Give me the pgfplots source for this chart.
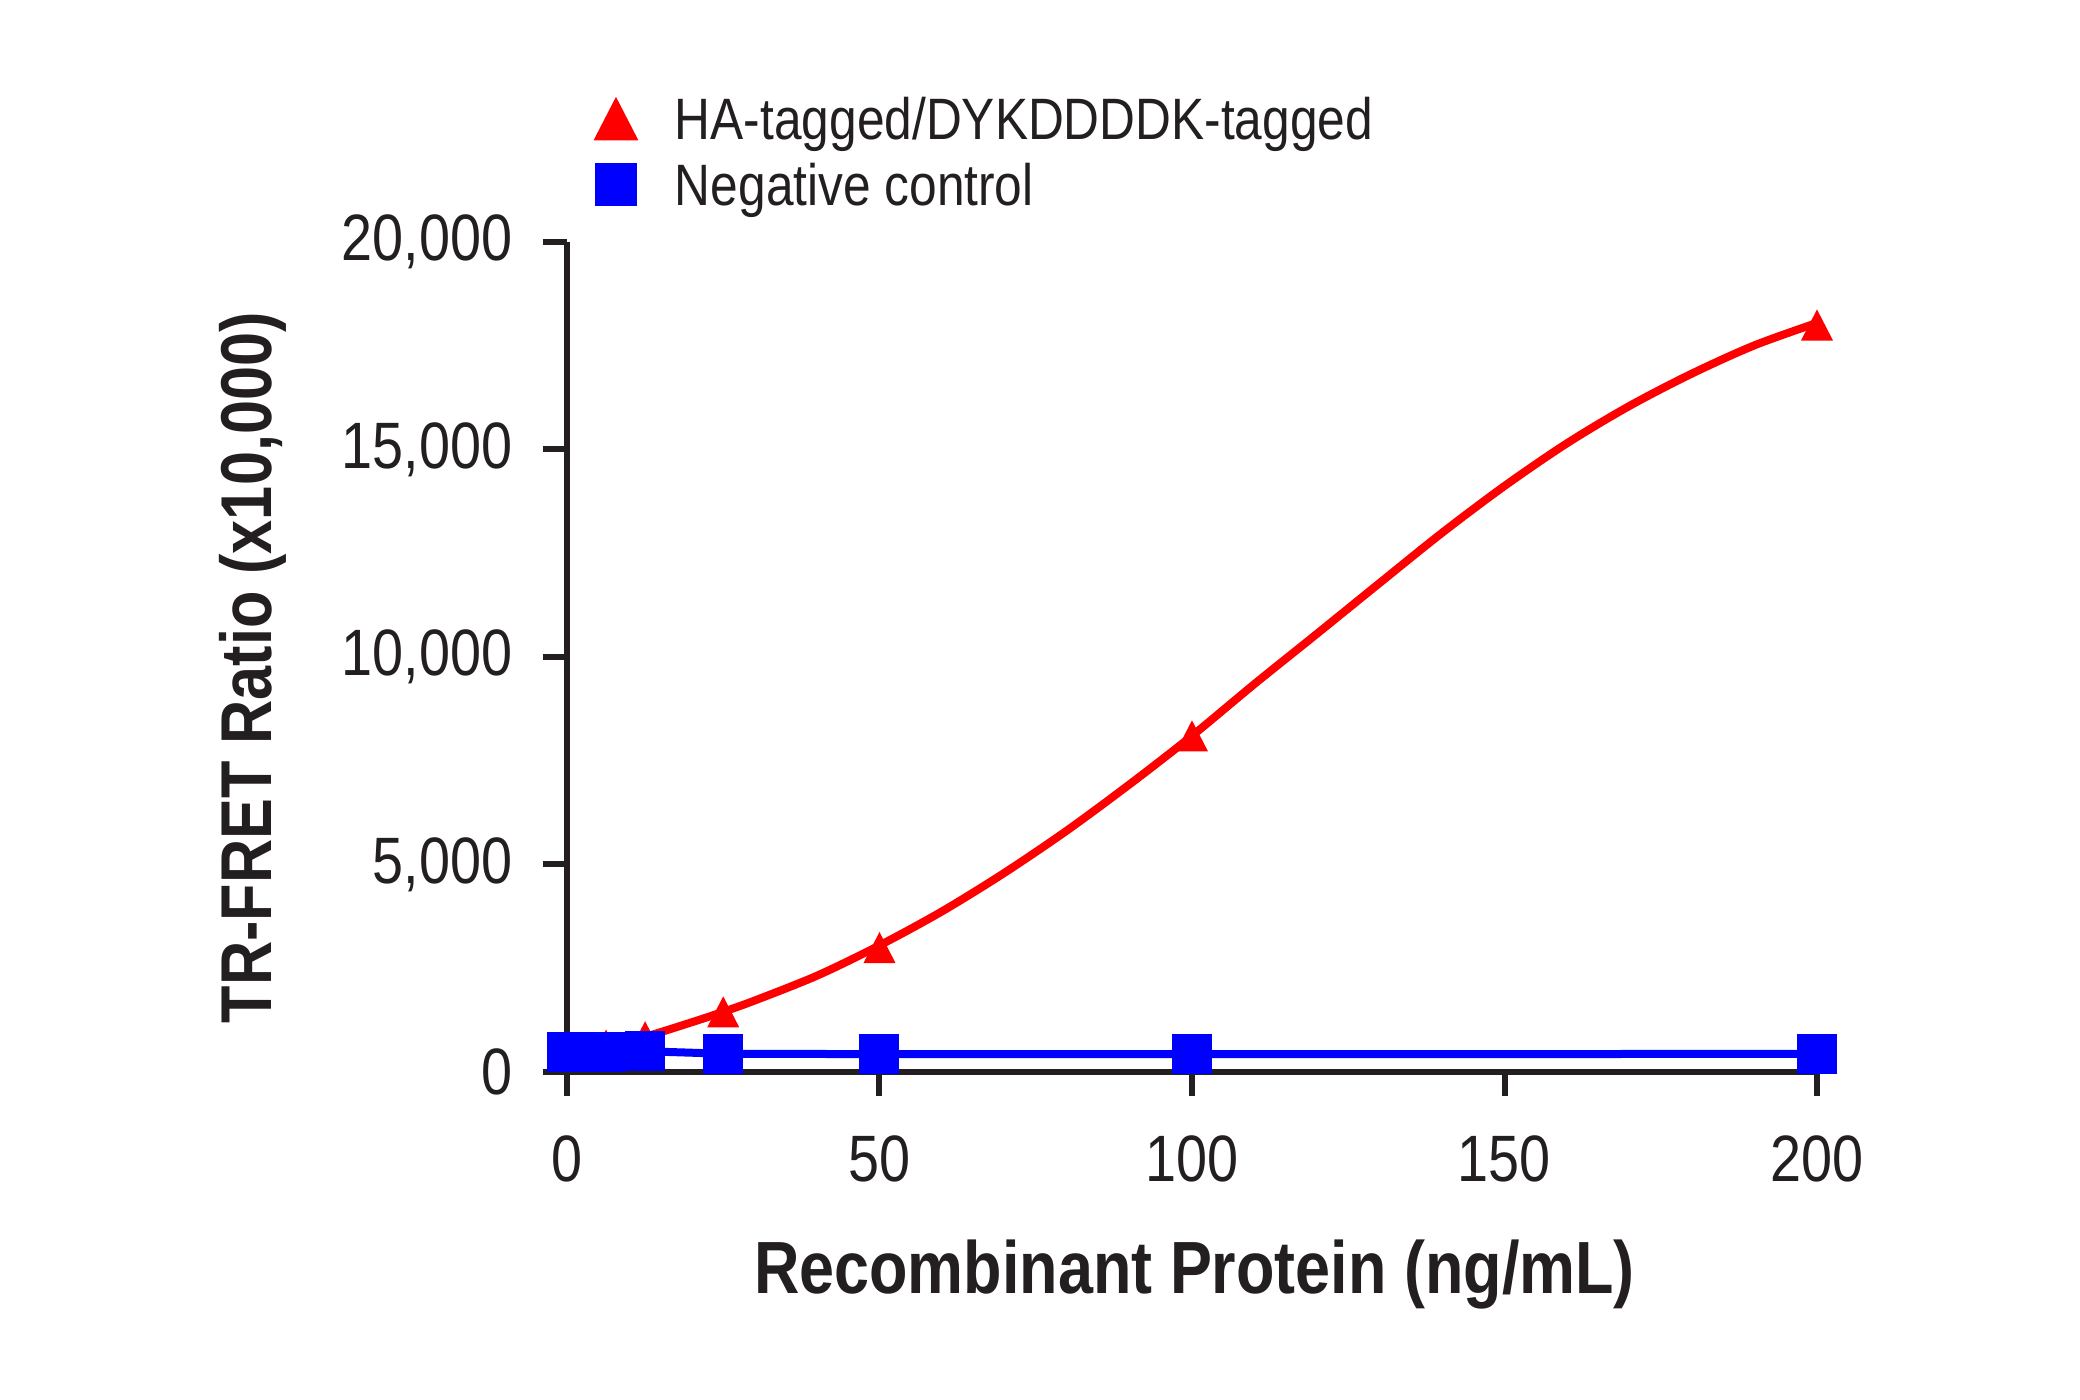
\documentclass[border=0pt]{standalone}
\usepackage{fontspec}
\setmainfont{Liberation Sans}[FakeStretch=0.85]
\usepackage{pgfplots}
\pgfplotsset{compat=1.18}
\definecolor{axisc}{HTML}{231F20}
\definecolor{myred}{HTML}{FF0000}
\definecolor{myblue}{HTML}{0000FF}
\pgfdeclareplotmark{tri}{%
  \pgfpathmoveto{\pgfqpoint{0pt}{0.97\pgfplotmarksize}}%
  \pgfpathlineto{\pgfqpoint{\pgfplotmarksize}{-0.97\pgfplotmarksize}}%
  \pgfpathlineto{\pgfqpoint{-\pgfplotmarksize}{-0.97\pgfplotmarksize}}%
  \pgfpathclose
  \pgfusepathqfill}
\pgfplotsset{mylegimg/.style={legend image code/.code={\pgfpathrectangle{\pgfpoint{-7pt}{-6pt}}{\pgfpoint{14pt}{12pt}}\pgfusepath{discard}\draw[##1] plot[only marks] coordinates {(0pt,1.6pt)};}}}
\begin{document}
\begin{tikzpicture}
\begin{axis}[
  name=ax, scale only axis, width=312.5pt, height=207.5pt,
  xmin=0, xmax=200, ymin=0, ymax=20000,
  axis lines=left, axis line style={-, line width=1.5pt, color=axisc},
  tick align=outside, major tick length=6pt,
  tick style={line width=1.5pt, color=axisc},
  xtick={0,50,100,150,200}, ytick={0,5000,10000,15000,20000},
  minor tick num=0,
  scaled y ticks=false,
  /pgf/number format/assume math mode=true,
  yticklabel style={/pgf/number format/1000 sep={,}, font=\fontsize{16.4}{19}\selectfont, inner sep=0pt, xshift=-7.5pt, color=axisc},
  xticklabel style={font=\fontsize{16.4}{19}\selectfont, inner sep=0pt, anchor=base, yshift=-21.3pt, color=axisc},
  xlabel={\textbf{Recombinant Protein (ng/mL)}},
  ylabel={\textbf{TR-FRET Ratio (x10,000)}},
  xlabel style={font=\fontsize{18.5}{22}\selectfont, at={(axis description cs:0.502,-0.2666)}, anchor=base, inner sep=0pt, color=axisc},
  ylabel style={font=\fontsize{18}{22}\selectfont, at={(axis description cs:-0.2512,0.487)}, anchor=center, inner sep=0pt, color=axisc},
  clip=false,
  legend cell align=left,
  legend style={draw=none, fill=none, at={(rel axis cs:0.0168,1.1759)}, anchor=north west,
    inner sep=0pt, outer sep=0pt, row sep=2pt, column sep=7.75pt,
    nodes={inner sep=0pt, text height=11pt, text depth=3.5pt, font=\fontsize{14.6}{18}\selectfont, text=axisc}},
]
\addlegendimage{myred, mark=tri, mark size=5.6pt, mylegimg}
\addlegendentry{HA-tagged/DYKDDDDK-tagged}
\addlegendimage{myblue, mark=square*, mark size=5.1pt, mylegimg}
\addlegendentry{Negative control}
% red fitted curve
\addplot[myred, line width=2pt, smooth, tension=0.5, forget plot] coordinates {
(0,450) (6.25,640) (12.5,850) (20,1200) (25,1450) (30,1720) (40,2320) (50,3050) (60,3870) (70,4800) (80,5820) (90,6930) (100,8100) (110,9350) (120,10560) (130,11780) (140,12990) (150,14120) (160,15150) (170,16050) (180,16830) (190,17510) (200,18050)};
% red points
\addplot[myred, only marks, mark=tri, mark size=4pt, forget plot] coordinates {
(1.5625,480) (3.125,530) (6.25,650) (12.5,850) (25,1450) (50,3000) (100,8100) (200,18000)};
% blue
\addplot[myblue, line width=2pt, mark=square*, mark size=4pt, forget plot] coordinates {
(0,470) (1.5625,470) (3.125,470) (6.25,480) (12.5,500) (25,440) (50,430) (100,430) (200,435)};
\coordinate (O) at (rel axis cs:0,0);
\end{axis}
\path (O) ++(-141.75pt,-82pt) rectangle ++(520pt,350pt);
\end{tikzpicture}
\end{document}
